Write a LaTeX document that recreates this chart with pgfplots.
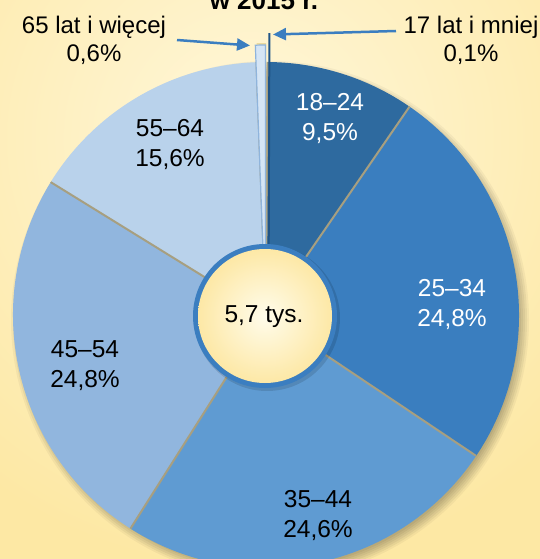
\documentclass[border=0pt]{standalone}
\usepackage{pgfplots}
\pgfplotsset{compat=1.18}
\usepackage{fontspec}
\setmainfont{Liberation Sans}
\usetikzlibrary{arrows.meta}
\definecolor{bgA}{HTML}{FDE8A4}
\definecolor{bgB}{HTML}{FFF7DA}
\definecolor{s17}{HTML}{1F5487}
\definecolor{s18}{HTML}{2E6A9F}
\definecolor{s25}{HTML}{3A7EBF}
\definecolor{s35}{HTML}{5F9BD2}
\definecolor{s45}{HTML}{91B6DE}
\definecolor{s55}{HTML}{B9D2EB}
\definecolor{s65}{HTML}{D5E5F5}
\definecolor{s65b}{HTML}{8FB4DC}
\definecolor{sep}{HTML}{A79F80}
\definecolor{ring}{HTML}{3B7EC0}
\definecolor{cin}{HTML}{FFFCEB}
\definecolor{cout}{HTML}{FDE8A6}
% slice: start percent, share percent, colour, radius
\newcommand{\slice}[4]{%
  \fill[#3] (axis cs:266,315) -- ++({90-3.6*(#1)}:#4)
    arc[start angle={90-3.6*(#1)}, delta angle={-3.6*(#2)}, radius=#4] -- cycle;}
\newcommand{\sepline}[1]{%
  \draw[sep, line width=2pt] (axis cs:266,315) -- ++({90-3.6*(#1)}:253pt);}
\begin{document}
\begin{tikzpicture}
\clip (0,0) rectangle (540pt,559pt);
\fill[bgA] (0,0) rectangle (540pt,559pt);
\shade[inner color=bgB, outer color=bgA] (250pt,420pt) circle (430pt);
\begin{axis}[scale only axis, width=540pt, height=559pt,
  xmin=0, xmax=540, ymin=0, ymax=559, y dir=reverse,
  hide axis, clip=false, anchor=south west, at={(0,0)}]
% drop shadow of the pie
\fill[black, opacity=0.05] (axis cs:270,320) circle (249pt);
\fill[black, opacity=0.05] (axis cs:270,320) circle (251pt);
\fill[black, opacity=0.05] (axis cs:270,320) circle (253pt);
\fill[black, opacity=0.05] (axis cs:270,320) circle (255pt);
\fill[black, opacity=0.05] (axis cs:270,320) circle (257pt);
\fill[black, opacity=0.04] (axis cs:270,320) circle (259pt);
% slices: 17 lat i mniej 0.1, 18-24 9.5, 25-34 24.8, 35-44 24.6, 45-54 24.8, 55-64 15.6, 65+ 0.6
\slice{0.1}{9.5}{s18}{253pt}
\slice{9.6}{24.8}{s25}{253pt}
\slice{34.4}{24.6}{s35}{253pt}
\slice{59.0}{24.8}{s45}{253pt}
\slice{83.8}{15.6}{s55}{253pt}
\sepline{0.1}
\sepline{9.6}
\sepline{34.4}
\sepline{59.0}
\sepline{83.8}
\sepline{99.4}
\fill[bgA!80!sep] (axis cs:266,315) -- ++({90-3.6*(99.45)}:272pt)
    arc[start angle={90-3.6*(99.45)}, delta angle={-3.6*(0.55)}, radius=272pt] -- cycle;
\filldraw[fill=s65, draw=s65b, line width=1.2pt] (axis cs:265.5,315) -- ++({90-3.6*(99.4)}:270pt)
    arc[start angle={90-3.6*(99.4)}, delta angle={-3.6*(0.6)}, radius=270pt] -- cycle;
\draw[s17, line width=2pt] (axis cs:268.5,315) -- ++({90-3.6*(0.05)}:282pt);
% centre
\fill[black, opacity=0.12] (axis cs:267,318) circle (73pt);
\fill[ring] (axis cs:265,316) circle (72pt);
\shade[inner color=cin, outer color=cout] (axis cs:265,316) circle (67pt);
\node[font=\fontsize{24.5}{29}\selectfont] at (axis cs:264,317) {5,7 tys.};
% labels
\begin{scope}[every node/.style={align=center, font=\fontsize{24.5}{30}\selectfont}]
\node[white] at (axis cs:330,119) {18–24\\9,5\%};
\node[white] at (axis cs:452,305) {25–34\\24,8\%};
\node at (axis cs:318,516) {35–44\\24,6\%};
\node at (axis cs:85,366) {45–54\\24,8\%};
\node at (axis cs:170,145) {55–64\\15,6\%};
\end{scope}
\begin{scope}[every node/.style={align=center, font=\fontsize{24}{28}\selectfont}]
\node at (axis cs:94,40) {65 lat i więcej\\0,6\%};
\node at (axis cs:471,40) {17 lat i mniej\\0,1\%};
\end{scope}
\node[anchor=base, font=\fontsize{26}{30}\selectfont\bfseries] at (axis cs:264,9.5) {w 2015 r.};
% arrows
\draw[ring, line width=2.5pt, -{Triangle[length=13pt,width=12pt]}] (axis cs:177,40) -- (axis cs:250,45.5);
\draw[ring, line width=2.5pt, -{Triangle[length=13pt,width=12pt]}] (axis cs:396,31) -- (axis cs:273,34.5);
\end{axis}
\end{tikzpicture}
\end{document}
